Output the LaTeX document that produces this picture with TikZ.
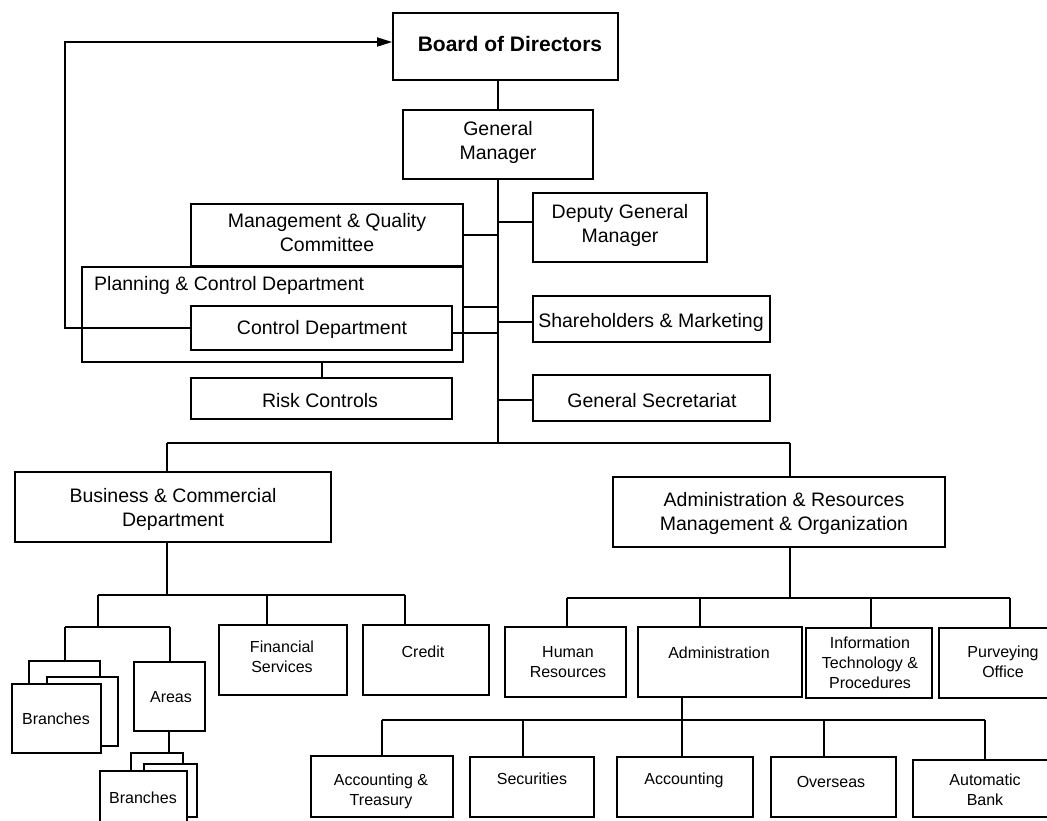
\documentclass[tikz,border=0pt]{standalone}
\usepackage{fontspec}
\setmainfont{Liberation Sans}
\usetikzlibrary{fit,arrows.meta}
\begin{document}
\begin{tikzpicture}[x=1pt,y=-1pt,
  box/.style={draw, line width=1.8pt, inner sep=0pt, fill=white},
  wire/.style={line width=1.8pt},
  bigtxt/.style={align=center, inner sep=0pt, font=\fontsize{19.5}{24}\selectfont},
  smalltxt/.style={align=center, inner sep=0pt, font=\fontsize{16}{20}\selectfont},
  boardtxt/.style={inner sep=0pt, font=\bfseries\fontsize{21}{25}\selectfont},
]
\useasboundingbox (0,0) rectangle (1047,820);
\clip (0,0) rectangle (1047,820);
\fill[white] (0,0) rectangle (1047,820);

% ---------- top management ----------
\node[box, fit={(393,13) (618,80)}] (board) {};
\node[boardtxt] (boardt) at (510,44) {Board of Directors};

\node[box, fit={(403,110) (593,179)}] (gm) {};
\node[bigtxt] (gmt) at (498,142) {General\\Manager};

\node[box, fit={(191,204) (463,266)}] (mq) {};
\node[bigtxt] (mqt) at (327,233) {Management \& Quality\\Committee};

\node[box, fit={(533,193) (707,262)}] (dgm) {};
\node[bigtxt] (dgmt) at (620,225) {Deputy General\\Manager};

\node[box, fit={(82,267) (463,362)}] (plan) {};
\node[bigtxt, anchor=west] (plant) at (94,285) {Planning \& Control Department};

\node[box, fit={(191,306) (452,350)}] (ctrl) {};
\node[bigtxt] (ctrlt) at (322,329) {Control Department};

\node[box, fit={(191,378) (452,419)}] (risk) {};
\node[bigtxt] (riskt) at (320,401) {Risk Controls};

\node[box, fit={(533,296) (770,342)}] (share) {};
\node[bigtxt] (sharet) at (651,322) {Shareholders \& Marketing};

\node[box, fit={(533,375) (770,421)}] (gsec) {};
\node[bigtxt] (gsect) at (652,401) {General Secretariat};

% ---------- divisions ----------
\node[box, fit={(15,472) (331,542)}] (bcd) {};
\node[bigtxt] (bcdt) at (173,509) {Business \& Commercial\\Department};

\node[box, fit={(613,477) (945,547)}] (arm) {};
\node[bigtxt] (armt) at (784,513) {Administration \& Resources\\Management \& Organization};

% ---------- business side ----------
\node[box, fit={(219,625) (347,695)}] (fin) {};
\node[smalltxt] (fint) at (282,657) {Financial\\Services};

\node[box, fit={(363,625) (489,695)}] (credit) {};
\node[smalltxt] (creditt) at (423,652) {Credit};

\node[box, fit={(29,661) (100,740)}] (bra) {};
\node[box, fit={(47,677) (118,746)}] (brb) {};
\node[box, fit={(12,684) (101,753)}] (brc) {};
\node[smalltxt] (brct) at (56,719) {Branches};

\node[box, fit={(134,662) (205,731)}] (areas) {};
\node[smalltxt] (areast) at (171,697) {Areas};

\node[box, fit={(131,753) (183,800)}] (bsa) {};
\node[box, fit={(144,764) (197,817)}] (bsb) {};
\node[box, fit={(100,771) (187,835)}] (bsc) {};
\node[smalltxt] (bsct) at (143,798) {Branches};

% ---------- administration side ----------
\node[box, fit={(505,627) (626,697)}] (hr) {};
\node[smalltxt] (hrt) at (568,662) {Human\\Resources};

\node[box, fit={(638,627) (802,697)}] (adm) {};
\node[smalltxt] (admt) at (719,653) {Administration};

\node[box, fit={(806,628) (932,698)}] (itp) {};
\node[smalltxt] (itpt) at (870,663) {Information\\Technology \&\\Procedures};

\node[box, fit={(939,628) (1067,698)}] (purv) {};
\node[smalltxt] (purvt) at (1003,662) {Purveying\\Office};

\node[box, fit={(311,756) (453,817)}] (acct) {};
\node[smalltxt] (acctt) at (381,791) {Accounting \&\\Treasury};

\node[box, fit={(470,757) (594,817)}] (secu) {};
\node[smalltxt] (secut) at (532,779) {Securities};

\node[box, fit={(617,757) (753,817)}] (acc) {};
\node[smalltxt] (acct2) at (684,780) {Accounting};

\node[box, fit={(771,757) (896,817)}] (ovs) {};
\node[smalltxt] (ovst) at (831,782) {Overseas};

\node[box, fit={(913,760) (1057,817)}] (abank) {};
\node[smalltxt] (abankt) at (985,790) {Automatic\\Bank};

% ---------- connector points ----------
\coordinate (trunk) at (498,443);
\coordinate (fb) at (65,42);
\coordinate (rk) at (322,370);
\coordinate (lb) at (167,443);
\coordinate (rb) at (790,443);
\coordinate (bb) at (167,595);
\coordinate (bbl) at (98,595);
\coordinate (bbr) at (405,595);
\coordinate (fd) at (267,595);
\coordinate (sb) at (98,627);
\coordinate (sbl) at (65,627);
\coordinate (sbr) at (170,627);
\coordinate (ad) at (169,731);
\coordinate (ab) at (790,598);
\coordinate (abl) at (567,598);
\coordinate (abm) at (700,598);
\coordinate (abi) at (871,598);
\coordinate (abr) at (1010,598);
\coordinate (cbl) at (382,720);
\coordinate (cbs) at (523,720);
\coordinate (cbo) at (824,720);
\coordinate (cbr) at (985,720);
\coordinate (adown) at (682,697);

% ---------- connectors ----------
\draw[wire] (board.south -| trunk) -- (gm.north -| trunk);
\draw[wire] (gm.south -| trunk) -- (trunk);
\draw[wire] (mq.east) -- (mq.east -| trunk);
\draw[wire] ([yshift=5.5pt]dgm.west) -- ([yshift=5.5pt]dgm.west -| trunk);
\draw[wire] ([yshift=7.5pt]plan.east) -- ([yshift=7.5pt]plan.east -| trunk);
\draw[wire] ([yshift=-5pt]ctrl.east) -- ([yshift=-5pt]ctrl.east -| trunk);
\draw[wire] ([yshift=-3pt]share.west) -- ([yshift=-3pt]share.west -| trunk);
\draw[wire] ([yshift=-2pt]gsec.west) -- ([yshift=-2pt]gsec.west -| trunk);
\draw[wire] (plan.south -| rk) -- (risk.north -| rk);
\draw[wire, -{Triangle[length=15pt,width=9pt]}]
  (ctrl.west) -- (ctrl.west -| fb) -- (fb) -- (fb -| board.west);

\draw[wire] (lb) -- (rb);
\draw[wire] (lb) -- (lb |- bcd.north);
\draw[wire] (rb) -- (rb |- arm.north);

\draw[wire] (bcd.south -| bb) -- (bb);
\draw[wire] (bbl) -- (bbr);
\draw[wire] (bbl) -- (sb);
\draw[wire] (fd) -- (fd |- fin.north);
\draw[wire] (bbr) -- (bbr |- credit.north);
\draw[wire] (sbl) -- (sbr);
\draw[wire] (sbl) -- (sbl |- bra.north);
\draw[wire] (sbr) -- (sbr |- areas.north);
\draw[wire] (ad) -- (ad |- bsa.north);

\draw[wire] (arm.south -| ab) -- (ab);
\draw[wire] (abl) -- (abr);
\draw[wire] (abl) -- (abl |- hr.north);
\draw[wire] (abm) -- (abm |- adm.north);
\draw[wire] (abi) -- (abi |- itp.north);
\draw[wire] (abr) -- (abr |- purv.north);

\draw[wire] (cbl) -- (cbr);
\draw[wire] (cbl) -- (cbl |- acct.north);
\draw[wire] (cbs) -- (cbs |- secu.north);
\draw[wire] (cbo) -- (cbo |- ovs.north);
\draw[wire] (cbr) -- (cbr |- abank.north);
\draw[wire] (adown) -- (adown |- acc.north);
\end{tikzpicture}
\end{document}
